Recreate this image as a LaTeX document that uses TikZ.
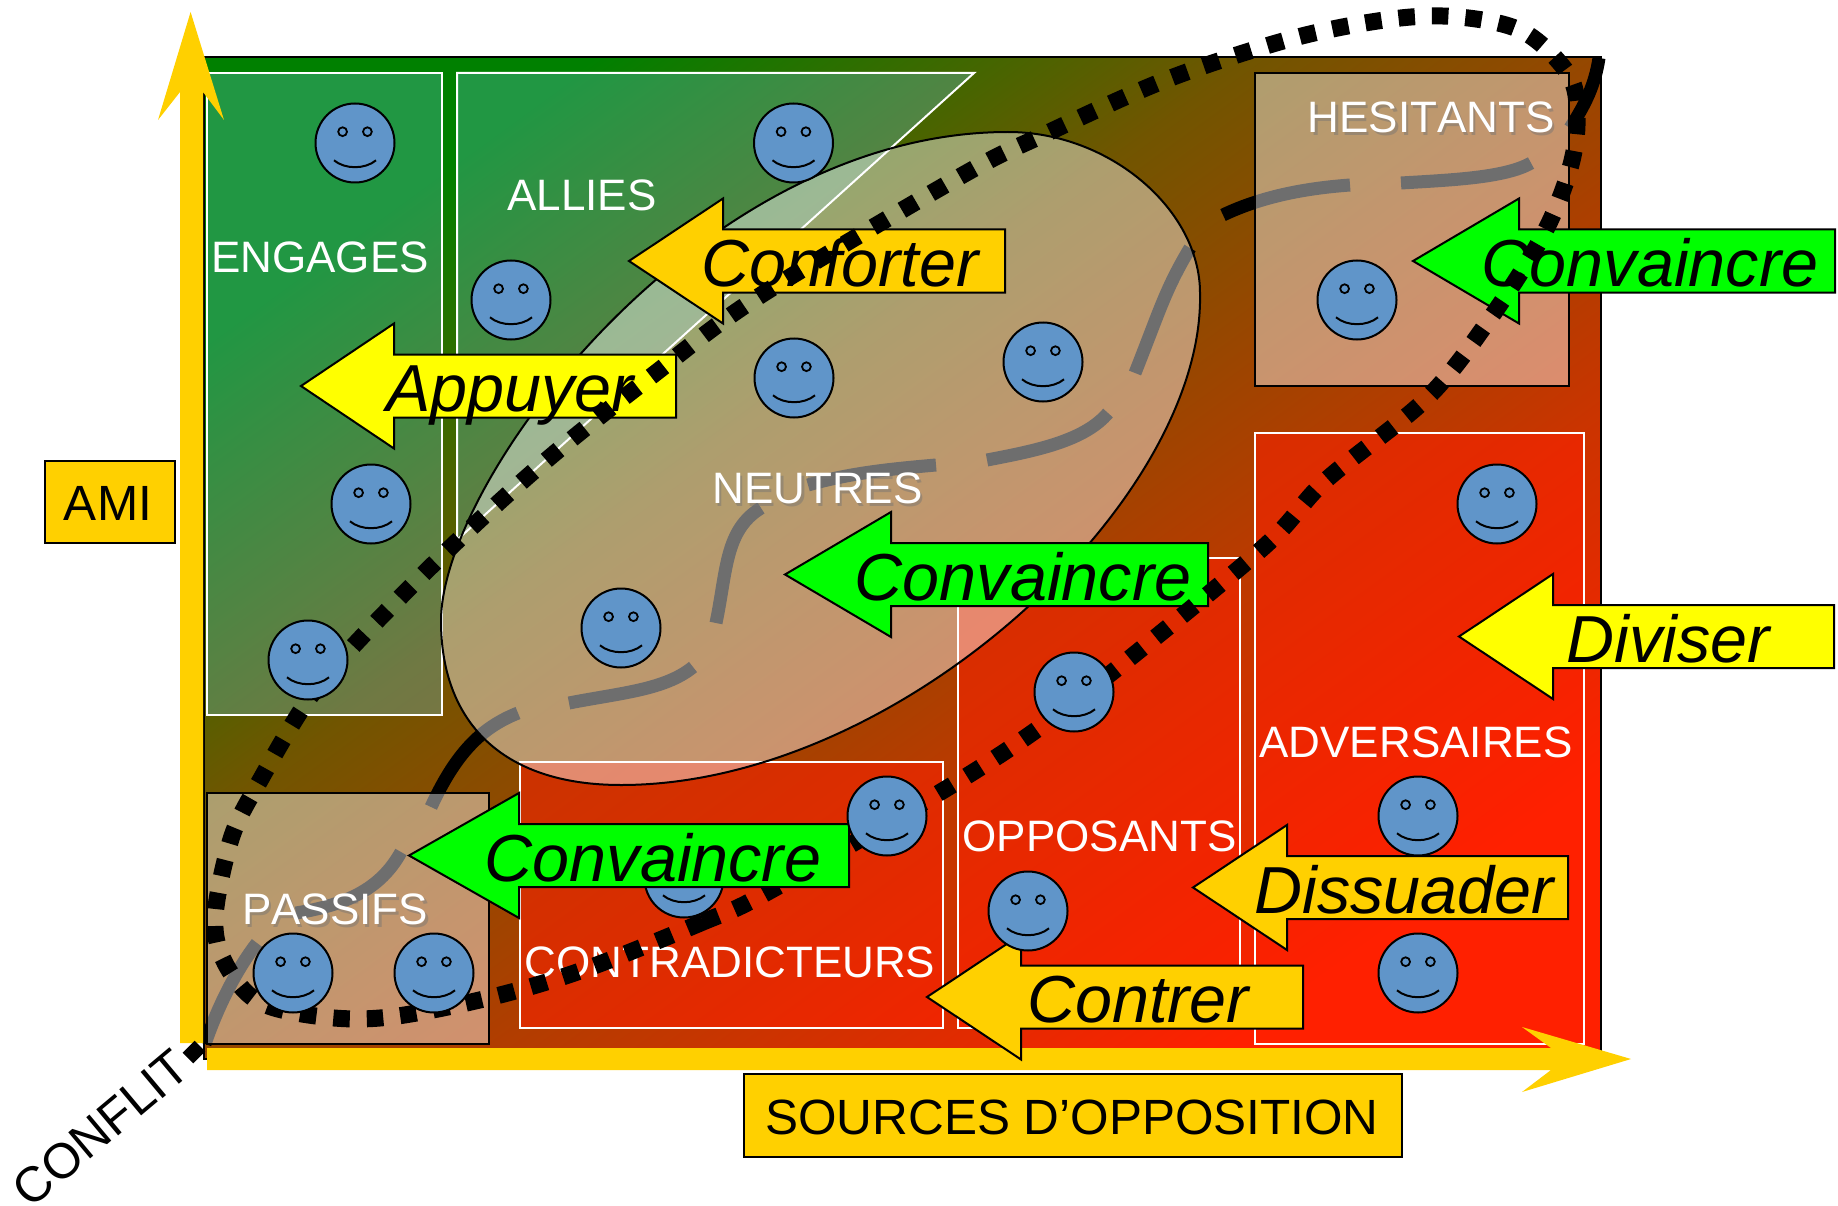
\documentclass[tikz,border=0pt]{standalone}
\usepackage{fontspec}
\setmainfont[Kerning=Off]{Liberation Sans}
\definecolor{bggreen}{RGB}{0,128,0}
\definecolor{bgmid}{RGB}{113,85,0}
\definecolor{bgred}{RGB}{255,32,0}
\definecolor{axisgold}{RGB}{255,208,0}
\definecolor{actiongreen}{RGB}{0,255,0}
\definecolor{actionyellow}{RGB}{255,255,0}
\definecolor{faceblue}{RGB}{96,149,201}
\definecolor{palegreen}{RGB}{110,205,225}
\pgfdeclareverticalshading{conflictfield}{100bp}{color(0bp)=(bgred); color(25bp)=(bgred);
  color(58.5bp)=(bgmid); color(75bp)=(bggreen); color(100bp)=(bggreen)}
\tikzset{smiley/.pic={
    \draw[line width=2pt,fill=faceblue] (0,0) circle (39.5);
    \draw[line width=1.8pt] (-12.4,-11.3) circle (4.4);
    \draw[line width=1.8pt] (12.4,-11.3) circle (4.4);
    \draw[line width=2pt] (-21,17.3) .. controls (-10,26.5) and (10,26.5) .. (21,17.3);
}}
\newcommand{\actionarrow}[8]{
  \draw[actionshape,fill=#2] (#3,#6) -- (#4,#6-62.5) -- (#4,#6-31.5) -- (#5,#6-31.5)
    -- (#5,#6+31.5) -- (#4,#6+31.5) -- (#4,#6+62.5) -- cycle;
  \node[actionverb] (#1) at (#7,#6+25.5) {#8};
}
\newcommand{\shadowlabel}[4]{
  \node[zonelabel,text=black!55,text opacity=.45] (#1shadow) at (#2+2.5,#3+3) {#4};
  \node[zonelabel] (#1) at (#2,#3) {#4};
}
\begin{document}
\begin{tikzpicture}[x=1pt,y=-1pt]
    \tikzstyle{actionshape}=[draw=black,line width=2pt,line join=miter]
    \tikzstyle{actionverb}=[anchor=base,inner sep=0pt,font=\fontsize{66.5}{70}\selectfont\itshape]
    \tikzstyle{whitebox}=[draw=white,line width=2pt]
    \tikzstyle{greenbox}=[whitebox,fill=palegreen,fill opacity=.3]
    \tikzstyle{redbox}=[whitebox,fill=bgred,fill opacity=.55]
    \tikzstyle{veilbox}=[draw=black,line width=2pt,fill=white,fill opacity=.43]
    \tikzstyle{zonelabel}=[text=white,inner sep=0pt,font=\fontsize{44}{48}\selectfont]
    \tikzstyle{blacklabel}=[text=black,inner sep=0pt,font=\fontsize{49.5}{54}\selectfont]
    \tikzstyle{goldbox}=[draw=black,line width=2pt,fill=axisgold]
    \tikzstyle{conflictdash}=[line width=13pt,black]
    \tikzstyle{dotloop}=[line width=17pt,black,dash pattern=on 16.5pt off 17pt]
    \useasboundingbox (0,0) rectangle (1838,1206);
    \shade[draw=black,line width=1.5pt,shading=conflictfield,shading angle=36]
      (204,57) rectangle (1601,1059);
    \draw[conflictdash] (205,1044) .. controls (220,1000) and (240,965) .. (257,943);
    \draw[conflictdash] (296,913) .. controls (345,905) and (380,890) .. (401,852);
    \draw[conflictdash] (431,807) .. controls (455,755) and (480,728) .. (518,713);
    \draw[conflictdash] (569,703) .. controls (620,693) and (665,690) .. (693,667);
    \draw[conflictdash] (716,623) .. controls (727,570) and (725,530) .. (761,508);
    \draw[conflictdash] (808,485) .. controls (850,473) and (890,469) .. (936,465);
    \draw[conflictdash] (987,460) .. controls (1040,450) and (1085,440) .. (1108,413);
    \draw[conflictdash] (1135,373) .. controls (1160,310) and (1165,290) .. (1190,248);
    \draw[conflictdash] (1223,215) .. controls (1265,195) and (1310,188) .. (1350,185);
    \draw[conflictdash] (1401,183) .. controls (1450,180) and (1505,178) .. (1531,163);
    \draw[conflictdash] (1570,128) .. controls (1585,105) and (1595,85) .. (1599,58);
    \draw[greenbox] (207,73) rectangle (442,715);
    \draw[greenbox] (457,73) -- (974,73) -- (457,540) -- cycle;
    \draw[redbox] (520,762) rectangle (943,1028);
    \draw[redbox] (958,558) rectangle (1240,1028);
    \draw[redbox] (1255,433) rectangle (1584,1044);
    \fill[axisgold] (180,1043) -- (180,92) -- (158,120) -- (190.6,12) -- (224,120)
      -- (203,92) -- (203,1043) -- cycle;
    \fill[axisgold] (207,1048) -- (1551,1048) -- (1522,1027) -- (1631,1059) -- (1522,1092)
      -- (1551,1070) -- (207,1070) -- cycle;
    \draw[line width=2pt,fill=white,fill opacity=.43] (441,621)
      .. controls (441,480) and (700,132) .. (1008,132)
      .. controls (1110,132) and (1200,210) .. (1200,293)
      .. controls (1205,500) and (900,785) .. (621,785)
      .. controls (500,785) and (441,720) .. (441,621) -- cycle;
    \draw[veilbox] (1255,73) rectangle (1569,386);
    \draw[veilbox] (207,793) rectangle (489,1044);
    \node[zonelabel] (engages) at (320,257) {ENGAGES};
    \node[zonelabel] (allies) at (582,195) {ALLIES};
    \shadowlabel{hesitants}{1431}{117}{HESITANTS}
    \shadowlabel{neutres}{817.5}{488}{NEUTRES}
    \node[zonelabel] (adversaires) at (1416,742) {ADVERSAIRES};
    \node[zonelabel] (opposants) at (1099.5,836) {OPPOSANTS};
    \node[zonelabel] (contradicteurs) at (730,962) {CONTRADICTEURS};
    \shadowlabel{passifs}{335}{909}{PASSIFS}
    \draw[goldbox] (44.5,461) rectangle (175,543);
    \node[blacklabel] (ami) at (108,503) {AMI};
    \draw[goldbox] (744,1074) rectangle (1402,1157);
    \node[blacklabel] (sources) at (1072,1117) {SOURCES D’OPPOSITION};
    \node[blacklabel,rotate=40] (conflit) at (101,1128) {CONFLIT};
    \actionarrow{appuyer}{actionyellow}{301}{394}{676}{386}{510}{Appuyer}
    \actionarrow{conforter}{axisgold}{629}{723}{1005}{261}{840}{Conforter}
    \actionarrow{convhesitants}{actiongreen}{1413}{1519}{1835}{261}{1650}{Convaincre}
    \actionarrow{convneutres}{actiongreen}{785}{891}{1208}{574.5}{1023}{Convaincre}
    \actionarrow{diviser}{actionyellow}{1459}{1553}{1834}{636.5}{1668}{Diviser}
    \actionarrow{dissuader}{axisgold}{1193}{1287}{1568}{887.5}{1404}{Dissuader}
    \pic at (684,878) {smiley};
    \draw[dotloop] plot[smooth cycle,tension=.55] coordinates {
      (766,893) (703,922) (583,970) (488,998) (390,1017) (324,1017) (259,1002) (225,963)
      (215,917) (232,836) (262,777) (308,700) (357,642) (451,547) (549,458) (653,375)
      (758,297) (961,176) (1043,135) (1168,79) (1294,38) (1392,19) (1459,17) (1524,32)
      (1570,77) (1577,125) (1568,175) (1542,237) (1489,320) (1427,398) (1325,481)
      (1266,545) (1125,662) (1032,733) (939,793)};
    \draw[line width=15pt] (188,1058) -- (200,1046);
    \actionarrow{convpassifs}{actiongreen}{409}{519}{849}{855.5}{653}{Convaincre}
    \actionarrow{contrer}{axisgold}{927}{1021}{1303}{997}{1138}{Contrer}
    \foreach \fx/\fy in {355/143,793.5/143,511/300,794/378,1043/362,371/504,308/660,621/628,
      1357/300,1497/504,1074/692,1418/816,887/816,1028/911,1418/973,293/973,434/973}
      \pic at (\fx,\fy) {smiley};
\end{tikzpicture}
\end{document}
